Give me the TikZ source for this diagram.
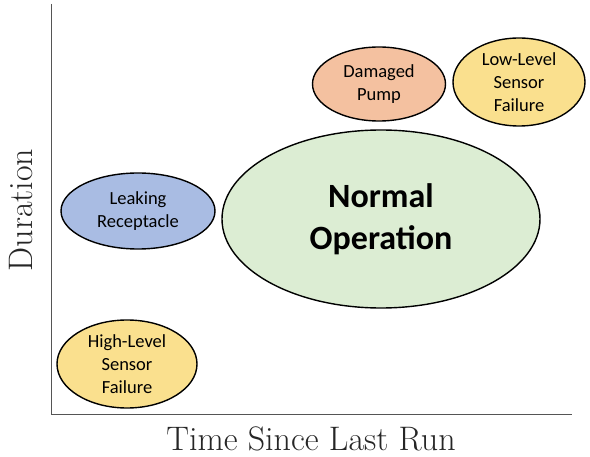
\documentclass[tikz,border=0pt]{standalone}
\usepackage{fontspec}
\newfontfamily\calibri{Carlito}
\usetikzlibrary{shapes.geometric}
\definecolor{pumpfill}{HTML}{F4C1A0}
\definecolor{sensorfill}{HTML}{FAE08E}
\definecolor{normalfill}{HTML}{DCEDD3}
\definecolor{leakfill}{HTML}{A9BCE3}
\definecolor{axisgray}{HTML}{555555}
\tikzset{
  state/.style={ellipse, draw=black, line width=1.4pt, inner sep=0pt,
    font=\calibri\fontsize{18.5}{23}\selectfont, align=center},
  axislabel/.style={font=\fontsize{34}{38}\selectfont, text=black!85, inner sep=0pt}
}
\begin{document}
\begin{tikzpicture}[x=1pt,y=-1pt]
  \useasboundingbox (0,0) rectangle (590,457);
  % axes
  \coordinate (origin) at (51,414);
  \coordinate (ytop) at (51,4);
  \coordinate (xend) at (572,414);
  \draw[axisgray, line width=0.9pt] (ytop) -- (origin) -- (xend);
  % axis labels
  \node[axislabel, anchor=base] (xlab) at (311,451) {Time Since Last Run};
  \node[axislabel, rotate=90, anchor=base] (ylab) at (32,210) {Duration};
  % states
  \node[state, fill=normalfill, minimum width=318pt, minimum height=178pt,
        font=\calibri\bfseries\fontsize{34}{42}\selectfont] (normal) at (381,219) {Normal\\Operation};
  \node[state, fill=pumpfill, minimum width=133pt, minimum height=74pt] (pump) at (379,84) {Damaged\\Pump};
  \node[state, fill=sensorfill, minimum width=132pt, minimum height=88pt] (low) at (519,82) {Low-Level\\Sensor\\Failure};
  \node[state, fill=leakfill, minimum width=154pt, minimum height=76pt] (leak) at (138,211) {Leaking\\Receptacle};
  \node[state, fill=sensorfill, minimum width=140pt, minimum height=88pt] (high) at (127,364) {High-Level\\Sensor\\Failure};
\end{tikzpicture}
\end{document}
